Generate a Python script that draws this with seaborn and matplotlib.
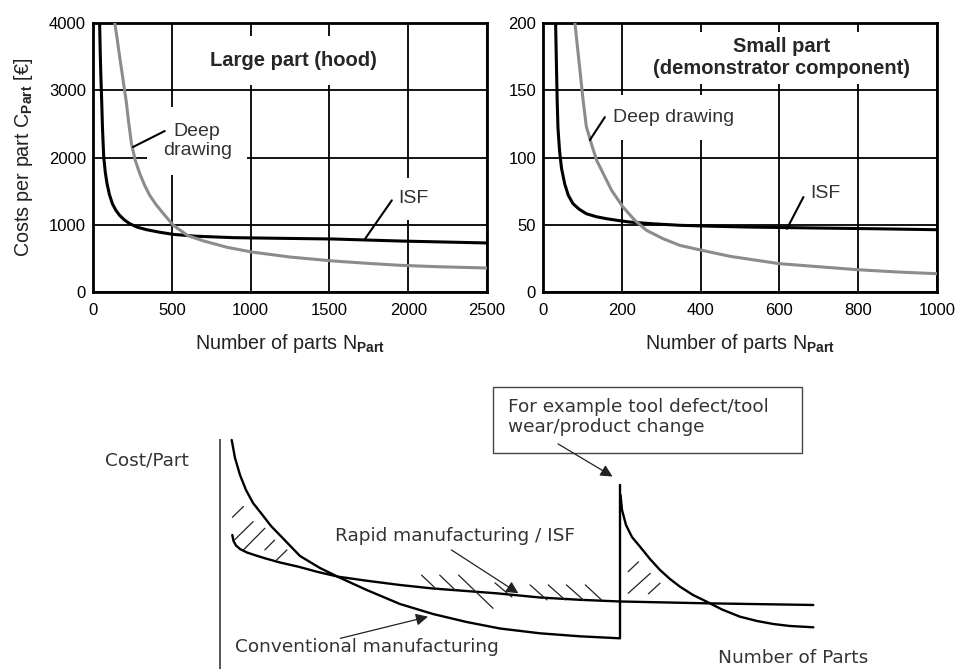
import numpy as np
import pandas as pd
import seaborn as sns
import matplotlib.pyplot as plt

# --- data ---
# large part (hood)
large_isf_n = [42, 46, 50, 55, 60, 68, 78, 89, 104, 123, 145, 169, 200, 233, 280, 339, 420,
               508, 650, 890, 1200, 1525, 1949, 2500]
large_isf_cost = [4000, 3550, 3200, 2850, 2450, 2007, 1780, 1611, 1450, 1313, 1215, 1140, 1070,
                  1016, 965, 927, 890, 857, 830, 808, 798, 788, 758, 729]
large_dd_n = [138, 150, 160, 172, 185, 197, 210, 226, 244, 268, 297, 327, 360, 400, 445, 508,
              600, 700, 850, 1006, 1250, 1525, 1750, 1949, 2200, 2500]
large_dd_cost = [4000, 3820, 3650, 3450, 3250, 3050, 2850, 2530, 2206, 1960, 1760, 1590, 1437,
                 1300, 1170, 995, 840, 760, 665, 595, 520, 461, 425, 397, 375, 357]

# small part (demonstrator component)
small_isf_n = [32, 33, 34, 36, 38, 42, 47, 55, 64, 76, 92, 110, 135, 161, 190, 220, 280, 347,
               430, 517, 686, 850, 1000]
small_isf_cost = [200, 185, 170, 142, 122, 105, 92, 80.5, 72, 65.7, 61.5, 58.2, 56, 54.5, 53.2,
                  52.0, 50.7, 49.6, 48.9, 48.3, 47.6, 47.0, 46.3]
small_dd_n = [81, 93, 102, 110, 123, 136, 153, 174, 203, 233, 263, 305, 347, 403, 475, 599, 686,
              797, 898, 1000]
small_dd_cost = [200, 167, 142, 123, 110, 98, 88, 75.6, 63.2, 53.3, 45.8, 39.6, 34.7, 31.0, 26.5,
                 21.1, 19.1, 16.6, 14.9, 13.6]

# schematic (arbitrary units 0..100)
conv_x = [1.80, 2.31, 3.08, 4.00, 5.08, 6.42, 7.85, 9.49, 12.31, 15.38, 18.20, 22.57, 27.69,
          32.77, 37.95, 43.08, 49.23, 55.38, 61.54, 61.54]
conv_y = [79.24, 73.01, 67.13, 61.94, 57.44, 53.63, 49.48, 45.67, 39.10, 34.95, 31.83, 27.34,
          22.49, 19.03, 16.26, 14.01, 12.35, 11.31, 10.62, 63.7]
new_x = [61.62, 61.85, 62.46, 63.38, 64.62, 66.15, 67.69, 69.23, 70.77, 72.77, 74.88, 77.23,
         80.00, 82.62, 85.12, 87.69, 91.28]
new_y = [60.21, 55.02, 49.83, 45.67, 42.32, 38.06, 34.26, 31.14, 28.48, 25.61, 23.29, 20.59,
         18.10, 16.61, 15.57, 14.88, 14.43]
isf_x = [1.89, 2.08, 2.46, 3.08, 4.15, 5.54, 6.92, 9.23, 12.05, 15.08, 18.20, 22.31, 27.69,
         32.77, 37.85, 42.57, 49.23, 55.38, 61.54, 74.88, 91.28]
isf_y = [46.37, 44.29, 42.73, 41.52, 40.31, 39.27, 38.31, 36.85, 35.40, 33.56, 31.94, 30.62,
         29.07, 27.85, 26.99, 26.19, 24.74, 23.94, 23.36, 22.73, 22.15]

# hatch strokes: (x0, y0, x1, y1)
hatches = [
    (1.9, 52.5, 3.6, 56.2), (2.2, 44.6, 5.1, 51.0), (3.6, 41.2, 6.9, 48.7),
    (6.9, 41.2, 8.4, 44.6), (8.7, 37.7, 10.3, 41.2),
    (31.0, 32.5, 33.3, 27.6), (33.8, 32.5, 36.2, 27.3), (36.7, 32.5, 42.0, 21.0),
    (42.3, 29.8, 44.9, 24.9), (47.7, 29.1, 50.3, 23.9), (50.5, 29.1, 53.1, 23.9),
    (53.3, 29.1, 55.9, 23.9), (56.2, 29.1, 58.7, 23.9),
    (62.8, 33.7, 64.4, 37.1), (62.8, 26.2, 66.2, 33.1), (65.9, 26.0, 67.7, 29.7),
]

sns.set_theme(style='white')
plt.rcParams['font.family'] = ['Liberation Sans', 'DejaVu Sans']
plt.rcParams['mathtext.fontset'] = 'custom'
plt.rcParams['mathtext.rm'] = 'Liberation Sans'
plt.rcParams['mathtext.it'] = 'Liberation Sans:italic'
plt.rcParams['mathtext.bf'] = 'Liberation Sans:bold'

GRAY = '#8c8c8c'
fig = plt.figure(figsize=(9.55, 6.69), dpi=100)

ax1 = fig.add_axes([93 / 955, 377 / 669, 394 / 955, 269 / 669])
ax2 = fig.add_axes([543 / 955, 377 / 669, 394 / 955, 269 / 669])


def style_panel(ax, xmax, ymax, xstep, ystep):
    ax.set_xlim(0, xmax)
    ax.set_ylim(0, ymax)
    ax.set_xticks(np.arange(0, xmax + 1, xstep))
    ax.set_yticks(np.arange(0, ymax + 1, ystep))
    ax.set_axisbelow(True)
    ax.grid(True, color='black', lw=1.3)
    for s in ax.spines.values():
        s.set_color('black')
        s.set_linewidth(2)
    ax.tick_params(length=0, labelsize=12, colors='black')
    ax.tick_params(axis='x', pad=8)
    ax.tick_params(axis='y', pad=5)
    ax.set_xlabel(r'Number of parts N$_{\mathbf{Part}}$', fontsize=14.2, labelpad=10, color='#222')


sns.lineplot(x=large_isf_n, y=large_isf_cost, ax=ax1, color='black', lw=2.2, zorder=5)
sns.lineplot(x=large_dd_n, y=large_dd_cost, ax=ax1, color=GRAY, lw=2.2, zorder=5)
style_panel(ax1, 2500, 4000, 500, 1000)
ax1.set_ylabel(r'Costs per part C$_{\mathbf{Part}}$ [€]', fontsize=14.2, labelpad=10, color='#222')
ax1.text(1271, 3445, 'Large part (hood)', ha='center', va='center', fontsize=14.5,
         fontweight='bold', bbox=dict(fc='white', ec='none', pad=11))
ax1.text(661, 2243, 'Deep\ndrawing', ha='center', va='center', fontsize=14,
         linespacing=1.2, color='#333', bbox=dict(fc='white', ec='none', pad=11))
ax1.text(2034, 1388, 'ISF', ha='center', va='center', fontsize=14, color='#333',
         bbox=dict(fc='white', ec='none', pad=9))
ax1.plot([455, 254], [2394, 2156], color='black', lw=1.5, zorder=6)
ax1.plot([1896, 1727], [1363, 793], color='black', lw=1.5, zorder=6)

sns.lineplot(x=small_isf_n, y=small_isf_cost, ax=ax2, color='black', lw=2.2, zorder=5)
sns.lineplot(x=small_dd_n, y=small_dd_cost, ax=ax2, color=GRAY, lw=2.2, zorder=5)
style_panel(ax2, 1000, 200, 200, 50)
ax2.set_ylabel('')
ax2.text(606, 174, 'Small part\n(demonstrator component)', ha='center', va='center',
         fontsize=14.5, fontweight='bold', linespacing=1.2,
         bbox=dict(fc='white', ec='none', pad=4))
ax2.text(178, 129.6, 'Deep drawing', ha='left', va='center', fontsize=14, color='#333',
         bbox=dict(fc='white', ec='none', pad=10))
ax2.text(716, 73, 'ISF', ha='center', va='center', fontsize=14, color='#333')
ax2.plot([157, 119], [130, 113], color='black', lw=1.5, zorder=6)
ax2.plot([661, 619], [70.6, 47], color='black', lw=1.5, zorder=6)

# --- schematic ---
ax3 = fig.add_axes([220 / 955, 0, 650 / 955, 289 / 669])
ax3.set_xlim(0, 100)
ax3.set_ylim(0, 100)
for k in ['top', 'right', 'bottom']:
    ax3.spines[k].set_visible(False)
ax3.spines['left'].set_bounds(0, 79.2)
ax3.spines['left'].set_color('#555')
ax3.spines['left'].set_linewidth(1.4)
ax3.set_xticks([])
ax3.set_yticks([])
ax3.patch.set_alpha(0)

lw_s = 1.7
sns.lineplot(x=conv_x, y=conv_y, ax=ax3, color='black', lw=lw_s, sort=False, estimator=None)
sns.lineplot(x=new_x, y=new_y, ax=ax3, color='black', lw=lw_s, sort=False, estimator=None)
sns.lineplot(x=isf_x, y=isf_y, ax=ax3, color='black', lw=lw_s, sort=False, estimator=None)
for x0, y0, x1, y1 in hatches:
    ax3.plot([x0, x1], [y0, y1], color='#222', lw=0.9)

sfont = dict(family='DejaVu Sans', fontsize=13.3, color='#333')
arrow = dict(arrowstyle='-|>', color='#222', lw=0.9, mutation_scale=18, shrinkA=0, shrinkB=0)
ax3.add_patch(plt.Rectangle((42.0, 74.8), 47.5, 22.9, fill=False, ec='#444', lw=1.0))
ax3.text(44.3, 90.8, 'For example tool defect/tool', ha='left', va='center', **sfont)
ax3.text(44.3, 83.8, 'wear/product change', ha='left', va='center', **sfont)
ax3.annotate('', xy=(60.4, 66.6), xytext=(52.0, 77.9), arrowprops=arrow)
ax3.text(17.7, 46.0, 'Rapid manufacturing / ISF', ha='left', va='center', **sfont)
ax3.annotate('', xy=(45.9, 26.2), xytext=(35.6, 41.2), arrowprops=arrow)
ax3.text(2.3, 7.6, 'Conventional manufacturing', ha='left', va='center', **sfont)
ax3.annotate('', xy=(32.0, 18.1), xytext=(18.5, 10.6), arrowprops=arrow)
ax3.text(76.6, 3.8, 'Number of Parts', ha='left', va='center', **sfont)
ax3.text(-17.7, 72.3, 'Cost/Part', ha='left', va='center', **sfont)

fig.savefig('out.png', dpi=100)
